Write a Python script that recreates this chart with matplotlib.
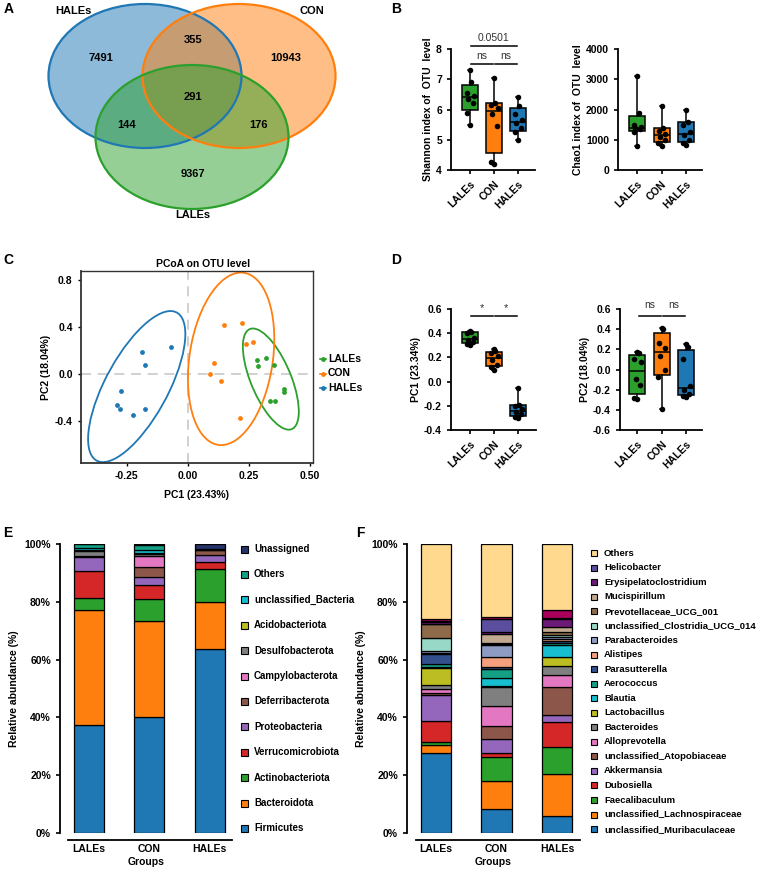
import numpy as np
import matplotlib
matplotlib.use("Agg")
import matplotlib.pyplot as plt
from matplotlib.patches import Ellipse, Rectangle

plt.rcParams['font.family'] = ['Liberation Sans', 'DejaVu Sans']
plt.rcParams['font.weight'] = 'bold'
plt.rcParams['axes.labelweight'] = 'bold'

W, H = 767, 869

groups = ["LALEs", "CON", "HALEs"]
group_colors = ["#2ca02c", "#ff7f0e", "#1f77b4"]

# ---- A: Venn counts ----
venn_sets = ["HALEs", "CON", "LALEs"]
venn_counts = [7491, 355, 10943, 291, 144, 176, 9367]

# ---- B: alpha diversity ----
shannon_lales = [5.5, 5.9, 6.2, 6.35, 6.45, 6.55, 6.9, 7.3]
shannon_con = [4.2, 4.25, 5.45, 5.85, 6.05, 6.15, 6.22, 7.05]
shannon_hales = [5.0, 5.25, 5.4, 5.55, 5.65, 5.85, 6.1, 6.4]
chao_lales = [800, 1250, 1350, 1380, 1420, 1500, 1900, 3100]
chao_con = [780, 900, 1000, 1100, 1200, 1300, 1400, 2100]
chao_hales = [820, 880, 1000, 1150, 1250, 1500, 1600, 2000]

# ---- C: PCoA scores ----
pc_lales_x = [0.281, 0.318, 0.289, 0.352, 0.393, 0.393, 0.335, 0.355]
pc_lales_y = [0.123, 0.137, 0.066, 0.080, -0.129, -0.157, -0.231, -0.231]
pc_con_x = [0.148, 0.220, 0.236, 0.267, 0.106, 0.089, 0.137, 0.213]
pc_con_y = [0.414, 0.437, 0.254, 0.271, 0.091, 0.000, -0.057, -0.374]
pc_hales_x = [-0.068, -0.188, -0.177, -0.275, -0.288, -0.277, -0.225, -0.175]
pc_hales_y = [0.234, 0.191, 0.077, -0.146, -0.260, -0.300, -0.349, -0.300]

# ---- D: PC scores per group ----
pc1_lales = [0.30, 0.31, 0.33, 0.34, 0.36, 0.40, 0.41, 0.42]
pc1_con = [0.10, 0.12, 0.14, 0.18, 0.21, 0.24, 0.25, 0.27]
pc1_hales = [-0.30, -0.29, -0.27, -0.25, -0.23, -0.20, -0.19, -0.05]
pc2_lales = [-0.29, -0.28, -0.15, -0.09, 0.07, 0.10, 0.16, 0.17]
pc2_con = [-0.39, -0.07, 0.00, 0.13, 0.21, 0.26, 0.40, 0.41]
pc2_hales = [-0.27, -0.26, -0.24, -0.20, -0.16, 0.10, 0.22, 0.25]

# ---- E: phylum composition (bottom -> top) ----
phylum_names = ["Firmicutes", "Bacteroidota", "Actinobacteriota", "Verrucomicrobiota",
                "Proteobacteria", "Deferribacterota", "Campylobacterota", "Desulfobacterota",
                "Acidobacteriota", "unclassified_Bacteria", "Others", "Unassigned"]
phylum_colors = ["#1f77b4", "#ff7f0e", "#2ca02c", "#d62728", "#9467bd", "#8c564b",
                 "#e377c2", "#7f7f7f", "#bcbd22", "#17becf", "#13a085", "#26336b"]
phylum_lales = [37.5, 39.7, 4.2, 9.3, 4.8, 0.3, 0.2, 1.7, 0.2, 0.6, 1.4, 0.1]
phylum_con = [40.0, 33.4, 7.6, 4.7, 3.0, 3.2, 3.9, 0.8, 0.4, 1.0, 1.8, 0.2]
phylum_hales = [63.5, 16.4, 11.4, 2.6, 2.4, 1.6, 0.1, 0.1, 0.05, 0.05, 0.2, 1.6]

# ---- F: genus composition (bottom -> top), "" = segment without legend entry ----
genus_names = ["unclassified_Muribaculaceae", "unclassified_Lachnospiraceae", "Faecalibaculum",
               "Dubosiella", "Akkermansia", "unclassified_Atopobiaceae", "Alloprevotella",
               "Bacteroides", "Lactobacillus", "Blautia", "Aerococcus", "Parasutterella",
               "Alistipes", "Parabacteroides", "unclassified_Clostridia_UCG_014",
               "Prevotellaceae_UCG_001", "Mucispirillum", "Erysipelatoclostridium",
               "Helicobacter", "", "Others"]
genus_colors = ["#1f77b4", "#ff7f0e", "#2ca02c", "#d62728", "#9467bd", "#8c564b", "#e377c2",
                "#7f7f7f", "#bcbd22", "#17becf", "#13a085", "#34508c", "#f4a07e", "#8e9cc4",
                "#98d8c6", "#8c6a4a", "#c0a98e", "#6b1a78", "#5b4e9e", "#a8005a", "#ffd98e"]
genus_lales = [27.6, 2.8, 1.2, 7.0, 9.3, 0.5, 1.4, 1.4, 5.8, 0.5, 0.9, 3.5, 0.5, 0.5,
               4.6, 4.7, 0.2, 0.6, 0.5, 0.7, 25.8]
genus_con = [8.4, 9.7, 8.1, 1.4, 5.0, 4.3, 7.0, 6.5, 0.4, 2.9, 2.9, 0.7, 3.7, 4.2,
             0.3, 0.4, 2.9, 0.9, 4.3, 0.7, 25.3]
genus_hales = [6.0, 14.3, 9.3, 8.7, 2.4, 9.9, 4.2, 3.0, 3.0, 4.1, 0.9, 0.7, 0.6, 0.6,
               0.7, 1.2, 1.6, 2.7, 0.4, 2.9, 22.8]

jitter = np.array([0.0, -0.14, 0.12, -0.07, 0.15, -0.12, 0.06, 0.0])


def px_axes(fig, left, top, right, bottom):
    return fig.add_axes([left / W, 1 - bottom / H, (right - left) / W, (bottom - top) / H])


def box_panel(ax, data, xlim, ylim, yticks, ylabel):
    stats = []
    for vals in data:
        v = np.asarray(vals)
        q1, med, q3 = np.percentile(v, [25, 50, 75], method="weibull")
        stats.append(dict(med=med, q1=q1, q3=q3, whislo=v.min(), whishi=v.max(), fliers=[]))
    bp = ax.bxp(stats, positions=[0, 1, 2], widths=0.66, patch_artist=True, showfliers=False,
                boxprops=dict(lw=1.1, edgecolor="black"),
                medianprops=dict(color="black", lw=1.1),
                whiskerprops=dict(lw=1.1, color="black"),
                capprops=dict(lw=1.1, color="black"), capwidths=0.15)
    for patch, c in zip(bp["boxes"], group_colors):
        patch.set_facecolor(c)
    for i, vals in enumerate(data):
        ax.scatter(i + jitter[:len(vals)], vals, s=16, color="black", zorder=3, lw=0)
    ax.set_xlim(*xlim)
    ax.set_ylim(*ylim)
    ax.set_yticks(yticks)
    ax.set_xticks([0, 1, 2])
    ax.set_xticklabels(groups, rotation=45, ha="right", rotation_mode="anchor", fontsize=7.5)
    ax.tick_params(axis="y", labelsize=7.5, width=1.2, length=3)
    ax.tick_params(axis="x", width=1.2, length=3)
    ax.spines[["top", "right"]].set_visible(False)
    ax.spines[["left", "bottom"]].set_linewidth(1.3)
    ax.set_ylabel(ylabel, fontsize=7.5, labelpad=2)


def sig(ax, x0, x1, y, ty, text, size=7.5):
    ax.plot([x0 + 0.05, x1 - 0.05], [y, y], color="black", lw=1.1, clip_on=False)
    ax.text((x0 + x1) / 2, ty, text, ha="center", va="center", fontsize=size,
            fontweight="normal", color="#333333", clip_on=False)


def stacked(ax, values, colors, xlim, bottom_start):
    # spine offset first: moving a spine resets the tick objects
    ax.spines[["top", "right"]].set_visible(False)
    ax.spines["bottom"].set_position(("outward", 5))
    vals = np.array(values)  # groups x categories
    bottoms = np.zeros(3)
    for k in range(vals.shape[1]):
        ax.bar([0, 1, 2], vals[:, k], bottom=bottoms, width=0.5, color=colors[k],
               edgecolor="black", lw=0.9)
        bottoms += vals[:, k]
    ax.set_xlim(*xlim)
    ax.set_ylim(0, 100)
    ax.spines[["left", "bottom"]].set_linewidth(1.3)
    ax.spines["bottom"].set_bounds(bottom_start, xlim[1])
    ax.set_yticks([0, 20, 40, 60, 80, 100])
    ax.set_yticklabels([f"{v}%" for v in range(0, 101, 20)])
    ax.set_xticks([0, 1, 2])
    ax.set_xticklabels(groups)
    ax.tick_params(axis="x", length=0, pad=3, labelsize=7.5)
    ax.tick_params(axis="y", width=1.2, length=3, labelsize=7.5)
    ax.set_ylabel("Relative abundance (%)", fontsize=7.5, labelpad=4)
    ax.set_xlabel("Groups", fontsize=7.5, labelpad=2)


fig = plt.figure(figsize=(W / 100, H / 100), dpi=100)

# overlay in pixel coordinates for annotations
ov = fig.add_axes([0, 0, 1, 1])
ov.set_xlim(0, W)
ov.set_ylim(H, 0)
ov.axis("off")

for lab, x, y in [("A", 9, 9), ("B", 396, 9), ("C", 8, 260), ("D", 396, 260),
                  ("E", 8, 533), ("F", 360, 533)]:
    ov.text(x, y, lab, fontsize=10, fontweight="bold", ha="center", va="center")

# ---- Panel A ----
axA = px_axes(fig, 0, 0, 430, 230)
axA.set_xlim(0, 430)
axA.set_ylim(230, 0)
axA.axis("off")
venn_geom = [(145, 76), (239, 76), (192, 137)]
venn_cols = ["#1f77b4", "#ff7f0e", "#2ca02c"]
for (cx, cy), c in zip(venn_geom, venn_cols):
    axA.add_patch(Ellipse((cx, cy), 193, 144, facecolor=c, alpha=0.5, edgecolor="none"))
for (cx, cy), c in zip(venn_geom, venn_cols):
    axA.add_patch(Ellipse((cx, cy), 193, 144, facecolor="none", edgecolor=c, lw=1.6))
for name, (x, y) in zip(venn_sets, [(73, 11), (312, 11), (193, 215)]):
    axA.text(x, y, name, ha="center", va="center", fontsize=8)
count_pos = [(101, 58), (193, 40), (286, 58), (193, 97), (127, 125), (259, 125), (193, 174)]
for n, (x, y) in zip(venn_counts, count_pos):
    axA.text(x, y, str(n), ha="center", va="center", fontsize=8)

# ---- Panel B ----
axB1 = px_axes(fig, 451, 49, 535, 170)
box_panel(axB1, [shannon_lales, shannon_con, shannon_hales], (-0.79, 2.71), (4, 8),
          [4, 5, 6, 7, 8], "Shannon index of  OTU  level")
sig(axB1, 0, 1, 7.5, 7.78, "ns")
sig(axB1, 1, 2, 7.5, 7.78, "ns")
sig(axB1, 0, 2, 8.1, 8.36, "0.0501")

axB2 = px_axes(fig, 618, 49, 702, 170)
box_panel(axB2, [chao_lales, chao_con, chao_hales], (-0.78, 2.65), (0, 4000),
          [0, 1000, 2000, 3000, 4000], "Chao1 index of  OTU  level")

# ---- Panel C ----
axC = px_axes(fig, 81, 271, 313, 463)
pts = [(pc_lales_x, pc_lales_y), (pc_con_x, pc_con_y), (pc_hales_x, pc_hales_y)]
for (xs, ys), c in zip(pts, group_colors):
    xs, ys = np.array(xs), np.array(ys)
    axC.scatter(xs, ys, s=12, color=c, lw=0, zorder=3)
    cov = np.cov(xs, ys)
    evals, evecs = np.linalg.eigh(cov)
    scale = 2.7
    angle = np.degrees(np.arctan2(evecs[1, 1], evecs[0, 1]))
    axC.add_patch(Ellipse((xs.mean(), ys.mean()), 2 * scale * np.sqrt(evals[1]),
                          2 * scale * np.sqrt(evals[0]), angle=angle,
                          facecolor="none", edgecolor=c, lw=1.3))
axC.axvline(0, color="#c8c8c8", ls=(0, (6, 4)), lw=1.2, zorder=0)
axC.axhline(0, color="#c8c8c8", ls=(0, (6, 4)), lw=1.2, zorder=0)
axC.set_xlim(-0.437, 0.512)
axC.set_ylim(-0.757, 0.877)
axC.set_xticks([-0.25, 0, 0.25, 0.5])
axC.set_xticklabels(["-0.25", "0.00", "0.25", "0.50"])
axC.set_yticks([-0.4, 0, 0.4, 0.8])
axC.set_yticklabels(["-0.4", "0.0", "0.4", "0.8"])
axC.tick_params(labelsize=7.5, width=1, length=2.5)
for s in axC.spines.values():
    s.set_color("#333333")
    s.set_linewidth(1.0)
axC.spines[["left", "bottom"]].set_linewidth(1.3)
axC.set_xlabel("PC1 (23.43%)", fontsize=7.5, labelpad=6)
axC.set_ylabel("PC2 (18.04%)", fontsize=7.5, labelpad=3)
ov.text(203, 264, "PCoA on OTU level", ha="center", va="center", fontsize=7.5)
for i, (g, c) in enumerate(zip(groups, group_colors)):
    y = 359 + i * 14.5
    ov.scatter([323], [y], s=12, color=c, lw=0)
    ov.plot([320, 326], [y, y], color=c, lw=1.2)
    ov.text(328, y, g, va="center", ha="left", fontsize=7.5)

# ---- Panel D ----
axD1 = px_axes(fig, 451, 309, 536, 430)
box_panel(axD1, [pc1_lales, pc1_con, pc1_hales], (-0.79, 2.75), (-0.4, 0.6),
          [-0.4, -0.2, 0.0, 0.2, 0.4, 0.6], "PC1 (23.34%)")
axD1.set_yticklabels(["-0.4", "-0.2", "0.0", "0.2", "0.4", "0.6"])
sig(axD1, 0, 1, 0.545, 0.61, "*", size=8)
sig(axD1, 1, 2, 0.545, 0.61, "*", size=8)

axD2 = px_axes(fig, 620, 309, 702, 430)
box_panel(axD2, [pc2_lales, pc2_con, pc2_hales], (-0.71, 2.65), (-0.6, 0.6),
          [-0.6, -0.4, -0.2, 0.0, 0.2, 0.4, 0.6], "PC2 (18.04%)")
axD2.set_yticklabels(["-0.6", "-0.4", "-0.2", "0.0", "0.2", "0.4", "0.6"])
sig(axD2, 0, 1, 0.53, 0.64, "ns")
sig(axD2, 1, 2, 0.53, 0.64, "ns")

# ---- Panel E ----
axE = px_axes(fig, 60, 544, 232, 833)
stacked(axE, [phylum_lales, phylum_con, phylum_hales], phylum_colors, (-0.48, 2.37), -0.35)
for i, k in enumerate(range(len(phylum_names) - 1, -1, -1)):
    y = 549 + i * 25.4
    ov.add_patch(Rectangle((241, y - 3.5), 7, 7, facecolor=phylum_colors[k],
                           edgecolor="black", lw=0.8))
    ov.text(254, y, phylum_names[k], va="center", ha="left", fontsize=7)

# ---- Panel F ----
axF = px_axes(fig, 407, 544, 580, 833)
stacked(axF, [genus_lales, genus_con, genus_hales], genus_colors, (-0.48, 2.38), -0.33)
legend_idx = [k for k in range(len(genus_names) - 1, -1, -1) if genus_names[k]]
for i, k in enumerate(legend_idx):
    y = 553 + i * 14.53
    ov.add_patch(Rectangle((591, y - 3), 6, 6, facecolor=genus_colors[k],
                           edgecolor="black", lw=0.8))
    ov.text(604, y, genus_names[k], va="center", ha="left", fontsize=6.8)

fig.savefig("out.png", dpi=100)
